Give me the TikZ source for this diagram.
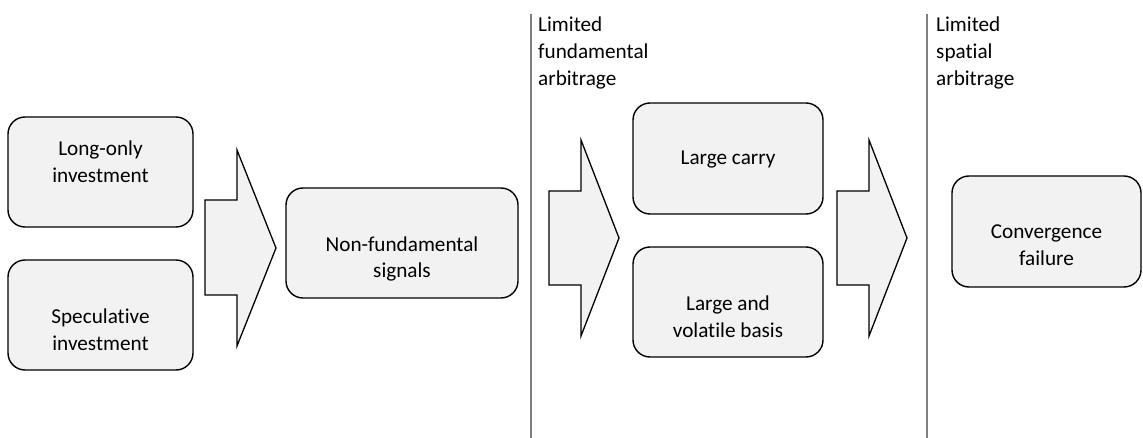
\documentclass[tikz,border=0pt]{standalone}
\usepackage{fontspec}
\setmainfont[Ligatures=NoCommon]{Carlito}
\begin{document}
\begin{tikzpicture}[x=1pt,y=-1pt,
  stagebox/.style={draw=black,line width=1.4pt,fill=boxgray,rounded corners=17pt,inner sep=0pt},
  boxtext/.style={align=center,font=\fontsize{21.2}{26.5}\selectfont,inner sep=0pt},
  phasetext/.style={align=left,font=\fontsize{21.2}{27}\selectfont,inner sep=0pt,anchor=north west},
  blockarrow/.style={draw=black,line width=1.3pt,fill=boxgray,line join=miter},
  divider/.style={draw=divgray,line width=1.6pt}]
\definecolor{boxgray}{HTML}{F2F2F2}
\definecolor{divgray}{HTML}{808080}
\useasboundingbox (0,0) rectangle (1143,438);

% phase dividers
\coordinate (d1t) at (531,14);
\coordinate (d1b) at (531,438);
\coordinate (d2t) at (927,14);
\coordinate (d2b) at (927,438);
\draw[divider] (d1t) -- (d1b);
\draw[divider] (d2t) -- (d2b);
\node[phasetext] (ph1) at (538,17) {Limited\\fundamental\\arbitrage};
\node[phasetext] (ph2) at (936,17) {Limited\\spatial\\arbitrage};

% boxes
\draw[stagebox] (8,117) rectangle (193,227) coordinate (b1);
\draw[stagebox] (8,260) rectangle (193,370) coordinate (b2);
\draw[stagebox] (286,188) rectangle (518,298) coordinate (b3);
\draw[stagebox] (633,103) rectangle (823,214) coordinate (b4);
\draw[stagebox] (633,247) rectangle (823,357) coordinate (b5);
\draw[stagebox] (952,176) rectangle (1141,287) coordinate (b6);

\node[boxtext] (t1) at (100.5,161.5) {Long-only\\investment};
\node[boxtext] (t2) at (100.5,329.5) {Speculative\\investment};
\node[boxtext] (t3) at (402,259) {Non-fundamental\\signals};
\node[boxtext] (t4) at (728,160) {Large carry};
\node[boxtext] (t5) at (728,316.5) {Large and\\volatile basis};
\node[boxtext] (t6) at (1046.5,245) {Convergence\\failure};

% block arrows
\draw[blockarrow] (205,200) -- (237,200) -- (237,150) -- (276,248) -- (237,346) -- (237,295) -- (205,295) -- cycle;
\draw[blockarrow] (549,191) -- (581,191) -- (581,140) -- (619,238) -- (581,336) -- (581,285) -- (549,285) -- cycle;
\draw[blockarrow] (837,191) -- (869,191) -- (869,140) -- (907,238) -- (869,336) -- (869,285) -- (837,285) -- cycle;
\end{tikzpicture}
\end{document}
